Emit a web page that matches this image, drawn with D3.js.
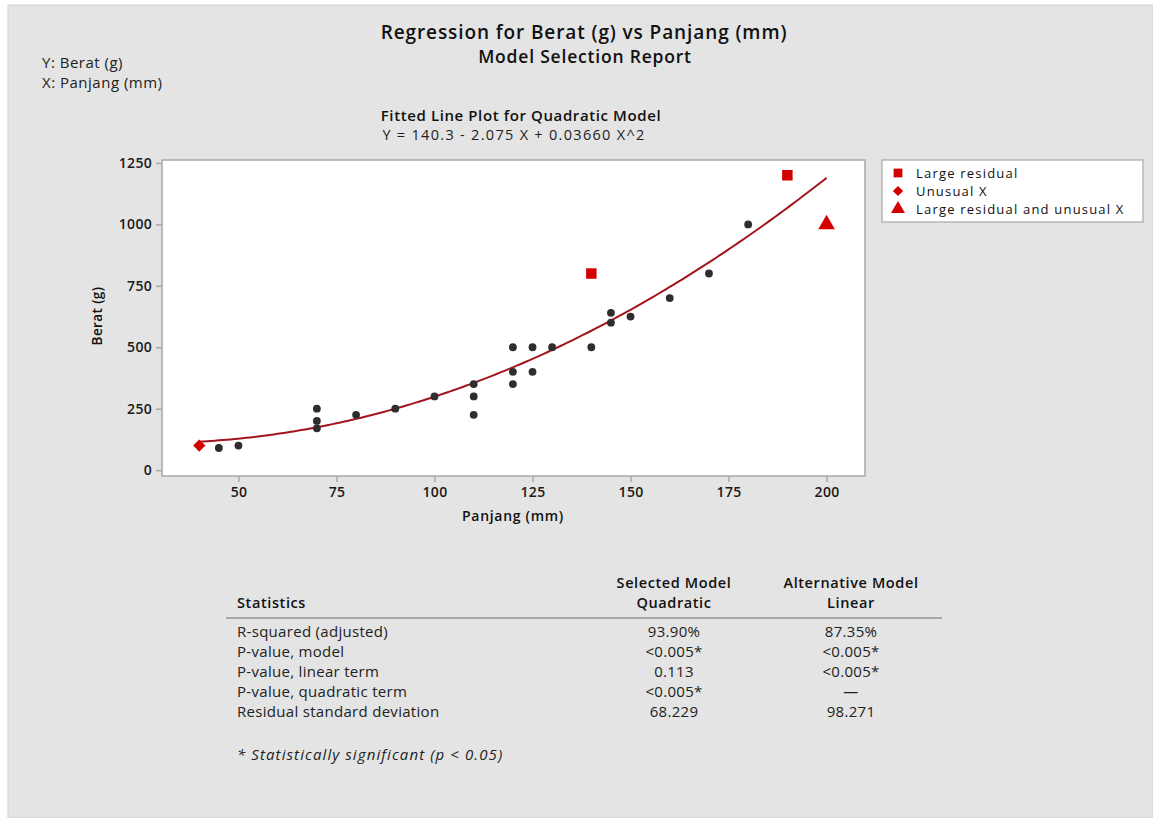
<!DOCTYPE html>
<html>
<head>
<meta charset="utf-8">
<script src="https://cdn.jsdelivr.net/npm/d3@7"></script>
<style>
  body { margin: 0; background: #fff; }
  svg { display: block; font-family: "Open Sans", "Noto Sans", sans-serif; }
</style>
</head>
<body>
<svg id="chart" width="1153" height="818"></svg>
<script>
// data
const panjang = [40, 45, 50, 70, 70, 70, 80, 90, 100, 110, 110, 110, 120, 120, 120,
  125, 125, 130, 140, 140, 145, 145, 150, 160, 170, 180, 190, 200];
const berat = [100, 90, 100, 250, 200, 170, 225, 250, 300, 350, 300, 225, 500, 400, 350,
  500, 400, 500, 500, 800, 640, 600, 625, 700, 800, 1000, 1200, 1000];
const pointType = ["diamond", "dot", "dot", "dot", "dot", "dot", "dot", "dot", "dot", "dot", "dot", "dot", "dot", "dot", "dot",
  "dot", "dot", "dot", "dot", "square", "dot", "dot", "dot", "dot", "dot", "dot", "square", "triangle"];
const coef = [140.3, -2.075, 0.03660]; // fitted quadratic
const xTicks = [50, 75, 100, 125, 150, 175, 200];
const yTicks = [0, 250, 500, 750, 1000, 1250];
const legendLabels = ["Large residual", "Unusual X", "Large residual and unusual X"];
const legendTypes = ["square", "diamond", "triangle"];
const tableHead = ["Statistics", ["Selected Model", "Quadratic"], ["Alternative Model", "Linear"]];
const rowLabels = ["R-squared (adjusted)", "P-value, model", "P-value, linear term", "P-value, quadratic term", "Residual standard deviation"];
const quadVals = ["93.90%", "<0.005*", "0.113", "<0.005*", "68.229"];
const linVals = ["87.35%", "<0.005*", "<0.005*", "\u2014", "98.271"];

const red = "#d40000";
const svg = d3.select("#chart");

// panel
svg.append("rect").attr("x", 8).attr("y", 5).attr("width", 1145).attr("height", 813)
  .attr("fill", "#e4e4e4").attr("stroke", "#d2d2d2").attr("stroke-width", 1);

// headings
svg.append("text").attr("x", 584).attr("y", 39).attr("text-anchor", "middle")
  .attr("font-size", 19).attr("font-weight", 600).attr("letter-spacing", 0.9).attr("fill", "#111")
  .text("Regression for Berat (g) vs Panjang (mm)");
svg.append("text").attr("x", 585).attr("y", 63).attr("text-anchor", "middle")
  .attr("font-size", 17.5).attr("font-weight", 600).attr("letter-spacing", 0.8).attr("fill", "#111")
  .text("Model Selection Report");
svg.append("text").attr("x", 42).attr("y", 68).attr("font-size", 15).attr("letter-spacing", 0.5).attr("fill", "#222").text("Y: Berat (g)");
svg.append("text").attr("x", 42).attr("y", 88).attr("font-size", 15).attr("letter-spacing", 0.5).attr("fill", "#222").text("X: Panjang (mm)");

svg.append("text").attr("x", 521).attr("y", 121).attr("text-anchor", "middle")
  .attr("font-size", 15).attr("font-weight", 600).attr("letter-spacing", 0.6).attr("fill", "#111")
  .text("Fitted Line Plot for Quadratic Model");
svg.append("text").attr("x", 514).attr("y", 140).attr("text-anchor", "middle")
  .attr("font-size", 14.5).attr("letter-spacing", 1.3).attr("fill", "#222")
  .text("Y = 140.3 - 2.075 X + 0.03660 X^2");

// plot
const pLeft = 162, pRight = 865, pTop = 160, pBottom = 476;
const x = d3.scaleLinear().domain([30.5, 209.8]).range([pLeft, pRight]);
const y = d3.scaleLinear().domain([-24, 1262]).range([pBottom, pTop]);

svg.append("rect").attr("x", pLeft).attr("y", pTop).attr("width", pRight - pLeft).attr("height", pBottom - pTop)
  .attr("fill", "#fff").attr("stroke", "#a8a8a8").attr("stroke-width", 1.5);

const gx = svg.append("g").attr("transform", `translate(0,${pBottom})`)
  .call(d3.axisBottom(x).tickValues(xTicks).tickFormat(d3.format("d")).tickSize(6).tickPadding(5));
const gy = svg.append("g").attr("transform", `translate(${pLeft},0)`)
  .call(d3.axisLeft(y).tickValues(yTicks).tickFormat(d3.format("d")).tickSize(6).tickPadding(4));
[gx, gy].forEach(g => {
  g.select(".domain").remove();
  g.selectAll(".tick line").attr("stroke", "#a8a8a8").attr("stroke-width", 1.5);
  g.selectAll(".tick text").attr("font-size", 14).attr("font-weight", 600).attr("letter-spacing", 0.3)
    .attr("fill", "#1a1a1a").attr("font-family", "'Open Sans', sans-serif");
});

svg.append("text").attr("x", 513).attr("y", 521).attr("text-anchor", "middle")
  .attr("font-size", 14).attr("font-weight", 600).attr("letter-spacing", 0.7).attr("fill", "#111").text("Panjang (mm)");
svg.append("text").attr("transform", "translate(102,316) rotate(-90)").attr("text-anchor", "middle")
  .attr("font-size", 13.5).attr("font-weight", 600).attr("letter-spacing", 0.4).attr("fill", "#111").text("Berat (g)");

// fitted curve
const fitX = d3.range(40, 200.01, 1);
const line = d3.line().x(d => x(d)).y(d => y(coef[0] + coef[1] * d + coef[2] * d * d));
svg.append("path").datum(fitX).attr("d", line)
  .attr("fill", "none").attr("stroke", "#a3151d").attr("stroke-width", 2);

// points (diamond = rotated square)
const symbolOf = {
  square: [d3.symbolSquare, 110, 0],
  diamond: [d3.symbolSquare, 75, 45],
  triangle: [d3.symbolTriangle, 120, 0]
};
panjang.forEach((px, i) => {
  const t = pointType[i];
  if (t === "dot") {
    svg.append("circle").attr("cx", x(px)).attr("cy", y(berat[i])).attr("r", 3.9).attr("fill", "#2e2e2e");
  } else {
    const s = symbolOf[t];
    svg.append("path").attr("d", d3.symbol(s[0], s[1])())
      .attr("transform", `translate(${x(px)},${y(berat[i])}) rotate(${s[2]})`).attr("fill", red);
  }
});

// legend
svg.append("rect").attr("x", 882).attr("y", 160).attr("width", 261).attr("height", 62)
  .attr("fill", "#fff").attr("stroke", "#a8a8a8").attr("stroke-width", 1.2);
legendLabels.forEach((lab, i) => {
  const ly = 173 + i * 18;
  const s = symbolOf[legendTypes[i]];
  svg.append("path").attr("d", d3.symbol(s[0], s[1] * 0.7)())
    .attr("transform", `translate(898,${ly}) rotate(${s[2]})`).attr("fill", red);
  svg.append("text").attr("x", 916).attr("y", ly + 5).attr("font-size", 13)
    .attr("letter-spacing", 1.2).attr("fill", "#111").text(lab);
});

// table
const colQ = 674, colL = 851, tx = 237;
svg.append("text").attr("x", tx).attr("y", 608).attr("font-size", 14.5).attr("font-weight", 600)
  .attr("letter-spacing", 0.6).attr("fill", "#111").text(tableHead[0]);
[[colQ, tableHead[1]], [colL, tableHead[2]]].forEach(([cx, lines]) => {
  lines.forEach((t, j) => {
    svg.append("text").attr("x", cx).attr("y", 588 + j * 20).attr("text-anchor", "middle")
      .attr("font-size", 14.5).attr("font-weight", 600).attr("letter-spacing", 0.6).attr("fill", "#111").text(t);
  });
});
svg.append("line").attr("x1", 226).attr("x2", 942).attr("y1", 618).attr("y2", 618)
  .attr("stroke", "#a8a8a8").attr("stroke-width", 2);
rowLabels.forEach((lab, i) => {
  const ry = 637 + i * 20;
  svg.append("text").attr("x", tx).attr("y", ry).attr("font-size", 15).attr("letter-spacing", 0.3).attr("fill", "#222").text(lab);
  svg.append("text").attr("x", colQ).attr("y", ry).attr("text-anchor", "middle").attr("font-size", 15).attr("letter-spacing", 0.3).attr("fill", "#222").text(quadVals[i]);
  svg.append("text").attr("x", colL).attr("y", ry).attr("text-anchor", "middle").attr("font-size", 15).attr("letter-spacing", 0.3).attr("fill", "#222").text(linVals[i]);
});
svg.append("text").attr("x", tx).attr("y", 760).attr("font-size", 15).attr("font-style", "italic")
  .attr("letter-spacing", 1.1).attr("fill", "#222").text("* Statistically significant (p < 0.05)");
</script>
</body>
</html>
